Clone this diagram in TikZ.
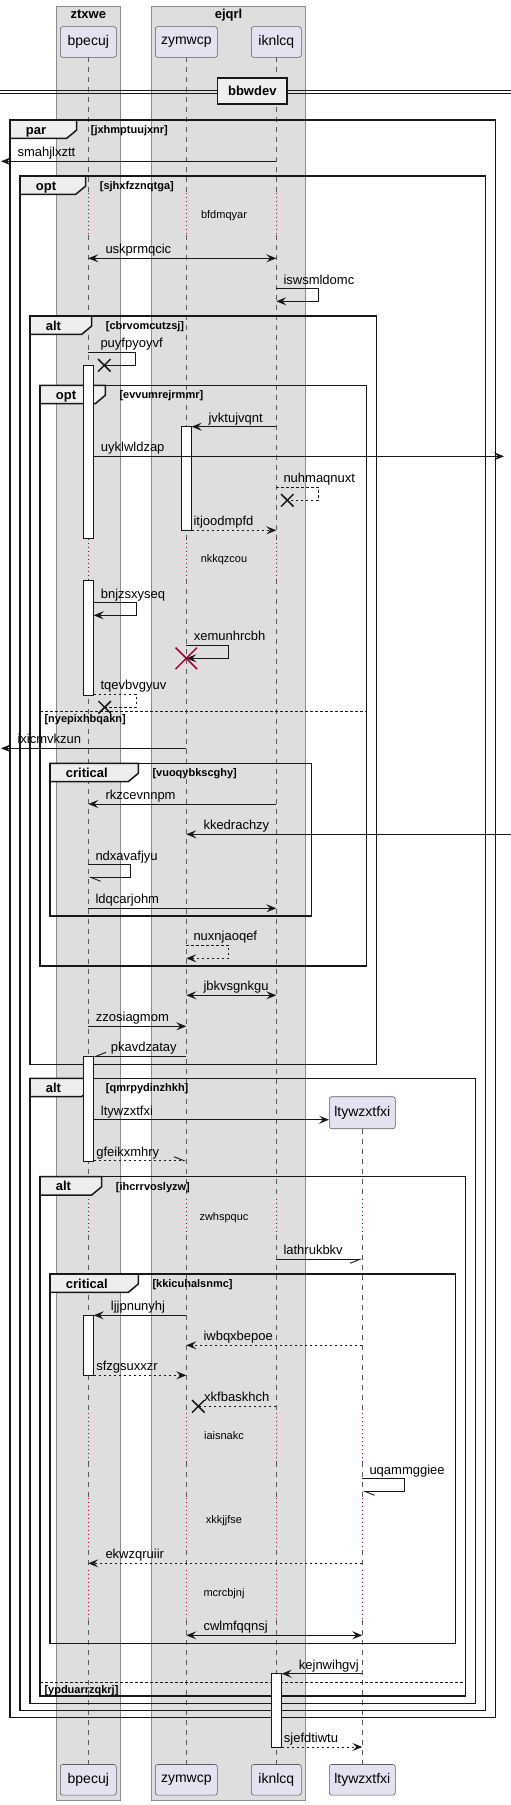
\documentclass[tikz,border=0pt]{standalone}
\usepackage{fontspec}
\setmainfont{Liberation Sans}
\usetikzlibrary{positioning,arrows.meta,shapes.misc}
\definecolor{sqink}{HTML}{181818}
\definecolor{sqred}{HTML}{A80036}
\definecolor{sqpartfill}{HTML}{E2E2F0}
\definecolor{sqtabfill}{HTML}{EEEEEE}
\newcommand{\sqBoxFill}{black!13}
\newcommand{\sqBoxLine}{black!45}
\tikzset{
  sqbox/.style={draw=\sqBoxLine, fill=\sqBoxFill, line width=0.8pt},
  sqboxtitle/.style={font=\fontsize{13}{15}\selectfont\bfseries, anchor=base, inner sep=0pt},
  sqpart/.style={rectangle, rounded corners=2.5pt, draw=sqink!70, fill=sqpartfill, line width=0.6pt,
                 inner sep=0pt, minimum height=30.7pt, font=\fontsize{14}{16}\selectfont},
  sqdivbox/.style={rectangle, draw=sqink, fill=sqtabfill, line width=1.5pt, inner sep=0pt,
                   minimum width=69.3pt, minimum height=26pt, font=\fontsize{13}{15}\selectfont\bfseries},
  sqdiv/.style={draw=sqink, line width=0.9pt},
  sqlife/.style={draw=black!65, line width=0.6pt, dash pattern=on 5pt off 5pt},
  sqdelay/.style={draw=sqred, line width=0.9pt, dash pattern=on 1pt off 3pt},
  sqframe/.style={draw=sqink, line width=1.5pt},
  sqtab/.style={draw=sqink, fill=sqtabfill, line width=1.5pt},
  sqelse/.style={draw=sqink, line width=0.8pt, dash pattern=on 2.5pt off 2.5pt},
  sqkind/.style={font=\fontsize{13}{15}\selectfont\bfseries, anchor=base west, inner sep=0pt},
  sqcond/.style={font=\fontsize{11}{13}\selectfont\bfseries, anchor=base west, inner sep=0pt},
  sqact/.style={rectangle, draw=sqink, fill=white, line width=0.8pt, minimum width=10pt, inner sep=0pt},
  sqwire/.style={draw=sqink, line width=0.9pt},
  sqdash/.style={sqwire, dash pattern=on 2.5pt off 2.5pt},
  sqmsg/.style={sqwire, -{Stealth[length=10pt,width=8pt,inset=4pt]}},
  sqret/.style={sqdash, -{Stealth[length=10pt,width=8pt,inset=4pt]}},
  sqboth/.style={sqwire, {Stealth[length=10pt,width=8pt,inset=4pt]}-{Stealth[length=10pt,width=8pt,inset=4pt]}},
  sqhalfa/.style={-{Straight Barb[harpoon,length=10pt,width=8pt]}},
  sqhalfb/.style={-{Straight Barb[harpoon,swap,length=10pt,width=8pt]}},
  sqlost/.style={cross out, draw=sqink, line width=1.5pt, minimum size=11pt, inner sep=0pt},
  sqkill/.style={cross out, draw=sqred, line width=1.5pt, minimum size=20pt, inner sep=0pt},
  sqlab/.style={font=\fontsize{13}{15}\selectfont, anchor=base west, inner sep=0pt, yshift=4.5pt},
  sqdlab/.style={font=\fontsize{11}{13}\selectfont, inner sep=0pt},
}
\begin{document}
\begin{tikzpicture}[x=1pt,y=-1pt]
  \useasboundingbox (0,0) rectangle (511,1805);
  \draw[sqbox] (56.3,6.3) rectangle (120.3,1800);
  \draw[sqbox] (151.7,6.3) rectangle (305.3,1800);
  \node[sqboxtitle] (bxa) at (88.3,18.5) {ztxwe};
  \node[sqboxtitle] (bxb) at (228.5,18.5) {ejqrl};

  \node[sqpart, minimum width=56pt] (bpe) at (88.3,42) {bpecuj};
  \node[sqpart, minimum width=62pt] (zym) at (186.3,42) {zymwcp};
  \node[sqpart, minimum width=50pt] (ikn) at (276.3,42) {iknlcq};
  \node[sqpart, minimum width=66pt, minimum height=32pt] (lty) at (362.3,1112.7) {ltywzxtfxi};
  \node[sqpart, minimum width=56pt] (bpe2) at (88.3,1779.8) {bpecuj};
  \node[sqpart, minimum width=62pt] (zym2) at (186.3,1779.8) {zymwcp};
  \node[sqpart, minimum width=50pt] (ikn2) at (276.3,1779.8) {iknlcq};
  \node[sqpart, minimum width=66pt] (lty2) at (362.3,1779.8) {ltywzxtfxi};

  \foreach \n/\y in {top/57.3, bot/1764.3, d1a/193.3, d1b/235, d2a/538.7, d2b/579.3, d3a/1199.3, d3b/1235,
                     d4a/1413.3, d4b/1461.7, d5a/1498.3, d5b/1550, d6a/1570, d6b/1620}
    \coordinate (\n) at (0,\y);
  \foreach \p in {bpe,zym,ikn}{
    \foreach \a/\b in {top/d1a, d1b/d2a, d2b/d3a, d3b/d4a, d4b/d5a, d5b/d6a, d6b/bot}
      \draw[sqlife] (\p |- \a) -- (\p |- \b);
    \foreach \a/\b in {d1a/d1b, d2a/d2b, d3a/d3b, d4a/d4b, d5a/d5b, d6a/d6b}
      \draw[sqdelay] (\p |- \a) -- (\p |- \b);
  }
  \draw[sqlife] (lty.south) -- (lty |- d3a);
  \foreach \a/\b in {d3b/d4a, d4b/d5a, d5b/d6a, d6b/bot}
    \draw[sqlife] (lty |- \a) -- (lty |- \b);
  \foreach \a/\b in {d3a/d3b, d4a/d4b, d5a/d5b, d6a/d6b}
    \draw[sqdelay] (lty |- \a) -- (lty |- \b);

  \draw[sqdiv] (0,90) -- (511,90) (0,93.3) -- (511,93.3);
  \node[sqdivbox] (div) at (252.3,91) {bbwdev};

  \foreach \fl/\ft/\fr/\fb/\tr/\kind/\cond [count=\i] in {
      10/120/495.7/1717.7/76.7/par/jxhmptuujxnr,
      20/176/485.7/1710.7/85.7/opt/sjhxfzznqtga,
      30/316/376.7/1064.7/91.7/alt/cbrvomcutzsj,
      40/385.3/366.7/966/105.3/opt/evvumrejrmmr,
      50/763.3/311.7/916/138.3/critical/vuoqybkscghy,
      30/1078.3/475.7/1703.3/91.7/alt/qmrpydinzhkh,
      40/1176.7/465.7/1696/101.7/alt/ihcrrvoslyzw,
      50/1274/455.7/1643.3/138.3/critical/kkicuhalsnmc}{
    \draw[sqframe] (\fl,\ft) rectangle (\fr,\fb);
    \draw[sqtab] (\fl,\ft) -- (\tr,\ft) -- (\tr,\ft+10) -- (\tr-10,\ft+18.3) -- (\fl,\ft+18.3) -- cycle;
    \node[sqkind] (fk\i) at (\fl+15.7,\ft+14) {\kind};
    \node[sqcond] (fc\i) at (\tr+14,\ft+13.5) {[\cond]};
  }
  \draw[sqelse] (40,711) -- (366.7,711);
  \node[sqcond] (fe1) at (44.3,722.5) {[nyepixhbqakn]};
  \draw[sqelse] (40,1682.3) -- (465.7,1682.3);
  \node[sqcond] (fe2) at (44.3,1693.8) {[ypduarrzqkrj]};

  \node[sqact, minimum height=173.4pt] (act1a) at (88.3,452) {};
  \node[sqact, minimum height=115.3pt] (act1b) at (88.3,637.65) {};
  \node[sqact, minimum height=103.6pt] (act2) at (186.3,478.5) {};
  \node[sqact, minimum height=104.7pt] (act3) at (88.3,1108.65) {};
  \node[sqact, minimum height=60pt] (act4) at (88.3,1345.3) {};
  \node[sqact, minimum height=73.3pt] (act5) at (276.3,1710.35) {};

  \coordinate (wl) at (1,0);
  \coordinate (wr) at (504,0);
  \coordinate (wr2) at (511,0);
  \foreach \n/\y in {m1/161.3, m2/258.3, m3/288.7, m3r/301.3, m4/352.3, m4r/365.3, m5/426.7, m6/456.3,
                     m7/487.3, m7r/500.3, m8/530.3, m9/602.7, m9r/615.3, m10/645.3, m10r/658.3,
                     m11/694.3, m11r/707.3, m12/748.3, m13/804, m14/834.3, m15/864.7, m15r/877.3,
                     m16/908.3, m17/945, m17r/958.3, m18/995.3, m19/1026.3, m20/1056.3, m21/1119.7,
                     m22/1160.7, m23/1259.3, m24/1315.3, m25/1345.3, m26/1375.3, m27/1406.3,
                     m28/1478.7, m28r/1491.3, m29/1563.3, m30/1635.3, m31/1673.7, m32/1747}
    \coordinate (\n) at (0,\y);

  \draw[sqmsg] (ikn |- m1) -- (wl |- m1);
  \node[sqlab, xshift=16.3pt] (t1) at (wl |- m1) {smahjlxztt};
  \draw[sqboth] (bpe |- m2) -- (ikn |- m2);
  \node[sqlab, xshift=17pt] (t2) at (bpe |- m2) {uskprmqcic};
  \draw[sqmsg] (ikn |- m3) -- ++(42,0) |- (ikn |- m3r);
  \node[sqlab, xshift=7pt] (t3) at (ikn |- m3) {iswsmldomc};
  \node[sqlost, xshift=16pt] (x4) at (bpe |- m4r) {};
  \draw[sqwire] (bpe |- m4) -- ++(47.4,0) |- (x4.center);
  \node[sqlab, xshift=12pt] (t4) at (bpe |- m4) {puyfpyoyvf};
  \draw[sqmsg] (ikn |- m5) -- (act2.east |- m5);
  \node[sqlab, xshift=16.7pt] (t5) at (act2.east |- m5) {jvktujvqnt};
  \draw[sqmsg] (act1a.east |- m6) -- (wr |- m6);
  \node[sqlab, xshift=7pt] (t6) at (act1a.east |- m6) {uyklwldzap};
  \node[sqlost, xshift=11pt] (x7) at (ikn |- m7r) {};
  \draw[sqdash] (ikn |- m7) -- ++(42,0) |- (x7.center);
  \node[sqlab, xshift=7pt] (t7) at (ikn |- m7) {nuhmaqnuxt};
  \draw[sqret] (act2.east |- m8) -- (ikn |- m8);
  \node[sqlab, xshift=7pt] (t8) at (zym |- m8) {itjoodmpfd};
  \draw[sqmsg] (act1b.east |- m9) -- ++(42.4,0) |- (act1b.east |- m9r);
  \node[sqlab, xshift=7pt] (t9) at (act1b.east |- m9) {bnjzsxyseq};
  \draw[sqmsg] (zym |- m10) -- ++(42.4,0) |- (zym |- m10r);
  \node[sqkill] (k10) at (zym |- m10r) {};
  \node[sqlab, xshift=7.4pt] (t10) at (zym |- m10) {xemunhrcbh};
  \node[sqlost, xshift=11pt] (x11) at (act1b.east |- m11r) {};
  \draw[sqdash] (act1b.east |- m11) -- ++(42.4,0) |- (x11.center);
  \node[sqlab, xshift=6.7pt] (t11) at (act1b.east |- m11) {tqevbvgyuv};
  \draw[sqmsg] (zym |- m12) -- (wl |- m12);
  \node[sqlab, xshift=16.3pt] (t12) at (wl |- m12) {ixicmvkzun};
  \draw[sqmsg] (ikn |- m13) -- (bpe |- m13);
  \node[sqlab, xshift=17pt] (t13) at (bpe |- m13) {rkzcevnnpm};
  \draw[sqmsg] (wr2 |- m14) -- (zym |- m14);
  \node[sqlab, xshift=17pt] (t14) at (zym |- m14) {kkedrachzy};
  \draw[sqwire, sqhalfa] (bpe |- m15) -- ++(42,0) |- (bpe |- m15r);
  \node[sqlab, xshift=7pt] (t15) at (bpe |- m15) {ndxavafjyu};
  \draw[sqmsg] (bpe |- m16) -- (ikn |- m16);
  \node[sqlab, xshift=7pt] (t16) at (bpe |- m16) {ldqcarjohm};
  \draw[sqret] (zym |- m17) -- ++(42.4,0) |- (zym |- m17r);
  \node[sqlab, xshift=7pt] (t17) at (zym |- m17) {nuxnjaoqef};
  \draw[sqboth] (zym |- m18) -- (ikn |- m18);
  \node[sqlab, xshift=17pt] (t18) at (zym |- m18) {jbkvsgnkgu};
  \draw[sqmsg] (bpe |- m19) -- (zym |- m19);
  \node[sqlab, xshift=7.4pt] (t19) at (bpe |- m19) {zzosiagmom};
  \draw[sqwire, sqhalfb] (zym |- m20) -- (act3.east |- m20);
  \node[sqlab, xshift=17pt] (t20) at (act3.east |- m20) {pkavdzatay};
  \draw[sqmsg] (act3.east |- m21) -- (lty.west |- m21);
  \node[sqlab, xshift=7pt] (t21) at (act3.east |- m21) {ltywzxtfxi};
  \draw[sqdash, sqhalfa] (act3.east |- m22) -- (zym |- m22);
  \node[sqlab, xshift=2.4pt] (t22) at (act3.east |- m22) {gfeikxmhry};
  \node[sqdlab] (dl1) at (224,216) {bfdmqyar};
  \node[sqdlab] (dl2) at (224,560) {nkkqzcou};
  \node[sqdlab] (dl3) at (224,1217.3) {zwhspquc};
  \draw[sqwire, sqhalfb] (ikn |- m23) -- (lty |- m23);
  \node[sqlab, xshift=7pt] (t23) at (ikn |- m23) {lathrukbkv};
  \draw[sqmsg] (zym |- m24) -- (act4.east |- m24);
  \node[sqlab, xshift=17pt] (t24) at (act4.east |- m24) {ljjpnunyhj};
  \draw[sqret] (lty |- m25) -- (zym |- m25);
  \node[sqlab, xshift=17pt] (t25) at (zym |- m25) {iwbqxbepoe};
  \draw[sqret] (act4.east |- m26) -- (zym |- m26);
  \node[sqlab, xshift=2.4pt] (t26) at (act4.east |- m26) {sfzgsuxxzr};
  \node[sqlost, xshift=12pt] (x27) at (zym |- m27) {};
  \draw[sqdash] (ikn |- m27) -- (x27.center);
  \node[sqlab, xshift=17.7pt] (t27) at (zym |- m27) {xkfbaskhch};
  \node[sqdlab] (dl4) at (224,1436) {iaisnakc};
  \draw[sqwire, sqhalfa] (lty |- m28) -- ++(42,0) |- (lty |- m28r);
  \node[sqlab, xshift=7pt] (t28) at (lty |- m28) {uqammggiee};
  \node[sqdlab] (dl5) at (224,1521) {xkkjjfse};
  \draw[sqret] (lty |- m29) -- (bpe |- m29);
  \node[sqlab, xshift=17pt] (t29) at (bpe |- m29) {ekwzqruiir};
  \node[sqdlab] (dl6) at (224,1593.3) {mcrcbjnj};
  \draw[sqboth] (zym |- m30) -- (lty |- m30);
  \node[sqlab, xshift=17pt] (t30) at (zym |- m30) {cwlmfqqnsj};
  \draw[sqmsg] (lty |- m31) -- (act5.east |- m31);
  \node[sqlab, xshift=17pt] (t31) at (act5.east |- m31) {kejnwihgvj};
  \draw[sqret] (act5.east |- m32) -- (lty |- m32);
  \node[sqlab, xshift=2pt] (t32) at (act5.east |- m32) {sjefdtiwtu};
\end{tikzpicture}
\end{document}
